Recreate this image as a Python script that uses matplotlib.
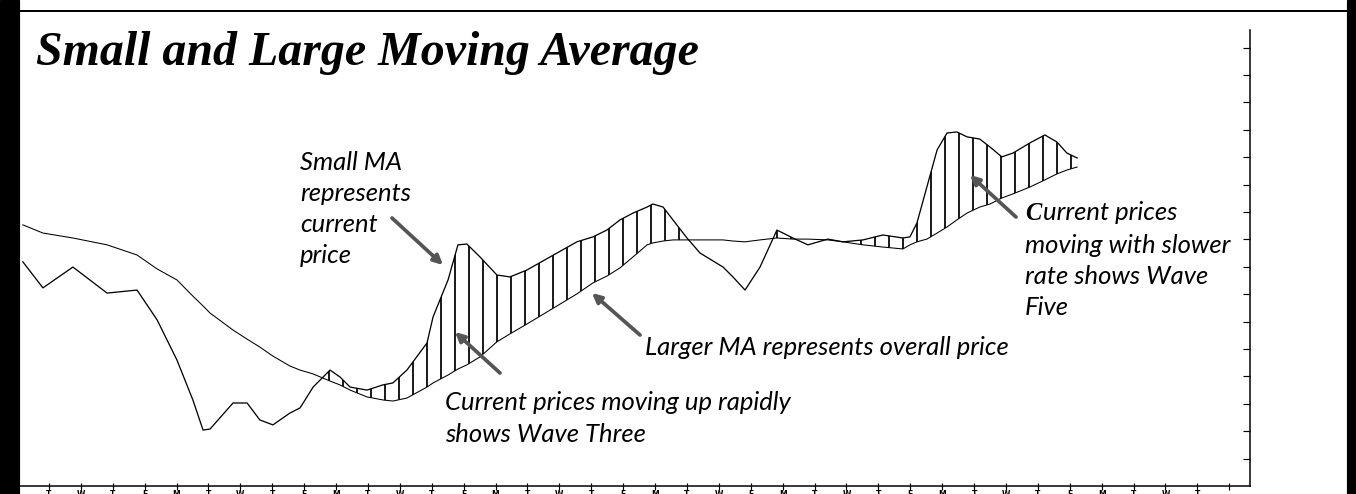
import numpy as np
import matplotlib
matplotlib.use("Agg")
import matplotlib.pyplot as plt
from matplotlib.patches import Rectangle
from matplotlib.lines import Line2D

# trading days (tick index) and the two moving averages
day = [-0.82, -0.19, 0.75, 1.82, 2.76, 3.39, 4.01, 4.51, 4.83, 5.05,
       5.77, 6.21, 6.61, 7.02, 7.55, 7.87, 8.28, 8.81, 9.12, 9.44,
       9.97, 10.47, 10.78, 11.22, 11.85, 12.04, 12.51, 12.82, 13.10, 13.51,
       14.04, 14.45, 14.98, 15.71, 16.55, 17.05, 17.49, 17.90, 18.31, 18.75,
       18.93, 19.25, 19.56, 20.00, 20.41, 21.13, 21.44, 21.82, 22.29, 22.82,
       23.32, 23.79, 24.42, 24.89, 25.52, 26.14, 26.77, 26.99, 27.21, 27.52,
       27.84, 28.15, 28.46, 28.78, 29.18, 29.50, 29.87, 30.22, 30.75, 31.22,
       31.60, 31.91, 32.23]

small_ma = [8.18, 7.23, 7.99, 7.04, 7.15, 6.06, 4.60, 3.14, 2.04, 2.08,
            3.03, 3.03, 2.41, 2.23, 2.66, 2.85, 3.61, 4.23, 3.98, 3.61,
            3.50, 3.69, 3.76, 4.23, 5.22, 6.17, 7.52, 8.80, 8.83, 8.36,
            7.70, 7.63, 7.88, 8.36, 8.91, 9.09, 9.34, 9.71, 9.96, 10.18,
            10.29, 10.18, 9.71, 9.05, 8.50, 7.99, 7.63, 7.15, 7.99, 9.34,
            9.05, 8.80, 9.01, 8.91, 8.98, 9.16, 9.05, 9.09, 9.60, 10.91,
            12.26, 12.88, 12.92, 12.74, 12.66, 12.37, 12.01, 12.15, 12.52, 12.81,
            12.55, 12.15, 11.97]

large_ma = [9.53, 9.23, 9.05, 8.80, 8.43, 7.92, 7.52, 6.93, 6.57, 6.31,
            5.69, 5.36, 5.07, 4.74, 4.38, 4.23, 4.09, 3.83, 3.69, 3.50,
            3.25, 3.14, 3.10, 3.21, 3.61, 3.76, 4.05, 4.27, 4.42, 4.71,
            5.26, 5.55, 5.91, 6.42, 7.01, 7.41, 7.66, 7.96, 8.36, 8.80,
            8.87, 8.94, 8.98, 8.98, 8.98, 8.98, 8.94, 8.91, 8.98, 9.05,
            9.01, 9.01, 8.98, 8.91, 8.80, 8.72, 8.65, 8.80, 8.91, 9.01,
            9.23, 9.45, 9.71, 9.96, 10.18, 10.29, 10.51, 10.66, 10.91, 11.17,
            11.39, 11.53, 11.64]

day_labels = ["T", "W", "T", "F", "M", "T", "W", "T", "F", "M",
              "T", "W", "T", "F", "M", "T", "W", "T", "F", "M",
              "T", "W", "F", "M", "T", "W", "T", "F", "M", "T",
              "W", "T", "F", "M", "T", "W", "T", ""]

DPI = 84
W, H = 1356, 494
plt.rcParams['hatch.linewidth'] = 1.5

fig = plt.figure(figsize=(W / DPI, H / DPI), dpi=DPI)


def px_box(x0, y0, x1, y1):
    return [x0 / W, 1 - y1 / H, (x1 - x0) / W, (y1 - y0) / H]


ax = fig.add_axes(px_box(20, 30, 1250, 486))
ax.set_facecolor('none')

s = np.array(small_ma)
l = np.array(large_ma)
ax.fill_between(day, l, s, where=s > l, interpolate=True, facecolor='none',
                edgecolor='black', hatch='|', linewidth=0)
ax.plot(day, large_ma, color='black', lw=0.9)
ax.plot(day, small_ma, color='black', lw=1.1)

ax.set_xlim(-0.909, 37.65)
ax.set_ylim(0, 16.64)

for side in ['top', 'left']:
    ax.spines[side].set_visible(False)
ax.spines['bottom'].set_linewidth(1.3)
ax.spines['right'].set_linewidth(1.3)

ax.set_xticks(range(len(day_labels)))
ax.set_xticklabels(day_labels, fontsize=6.5, fontweight='bold', family='DejaVu Sans')
ax.tick_params(axis='x', direction='inout', length=6, width=1, pad=0)
ax.yaxis.tick_right()
ax.set_yticks(range(1, 17))
ax.tick_params(axis='y', direction='in', length=6, width=1, labelright=False)

# frame around the picture
fig.add_artist(Rectangle((0, 0), 19 / W, 1, transform=fig.transFigure, color='black'))
fig.add_artist(Rectangle((1347 / W, 0), 9 / W, 1, transform=fig.transFigure, color='black'))
fig.add_artist(Line2D([0, 1347 / W], [1 - 11 / H, 1 - 11 / H], transform=fig.transFigure,
                      color='black', lw=1.7))

fig.text(36 / W, 1 - 65 / H, 'Small and Large Moving Average', family='Liberation Serif',
         weight='bold', style='italic', size=41, va='baseline')

hand = dict(family='Lato', style='italic', weight='normal', size=22, color='black')


def put_lines(x, y0, lines, step, **kw):
    for i, txt in enumerate(lines):
        fig.text(x / W, 1 - (y0 + i * step) / H, txt, va='baseline', ha='left', **kw)


put_lines(300, 170, ['Small MA', 'represents', 'current', 'price'], 31, **hand)
put_lines(445, 410, ['Current prices moving up rapidly', 'shows Wave Three'], 32, **hand)
put_lines(645, 355, ['Larger MA represents overall price'], 32, **hand)
fig.text(1025 / W, 1 - 220 / H, 'C', family='Liberation Serif', weight='bold',
         style='italic', size=21, va='baseline')
put_lines(1043, 220, ['urrent prices'], 32, **hand)
put_lines(1025, 253, ['moving with slower', 'rate shows Wave', 'Five'], 31, **hand)

# grey pointer arrows (tail -> head, in picture pixels)
arrows = [((392, 218), (443, 265)),
          ((500, 373), (455, 332)),
          ((640, 335), (592, 293)),
          ((1016, 217), (970, 175))]
for tail, head in arrows:
    ax.annotate('', xy=(head[0], H - head[1]), xytext=(tail[0], H - tail[1]),
                xycoords='figure pixels', textcoords='figure pixels',
                annotation_clip=False,
                arrowprops=dict(arrowstyle='-|>', color='#555555', lw=3.2,
                                mutation_scale=16, shrinkA=0, shrinkB=0))

fig.savefig('out.png', dpi=DPI)
